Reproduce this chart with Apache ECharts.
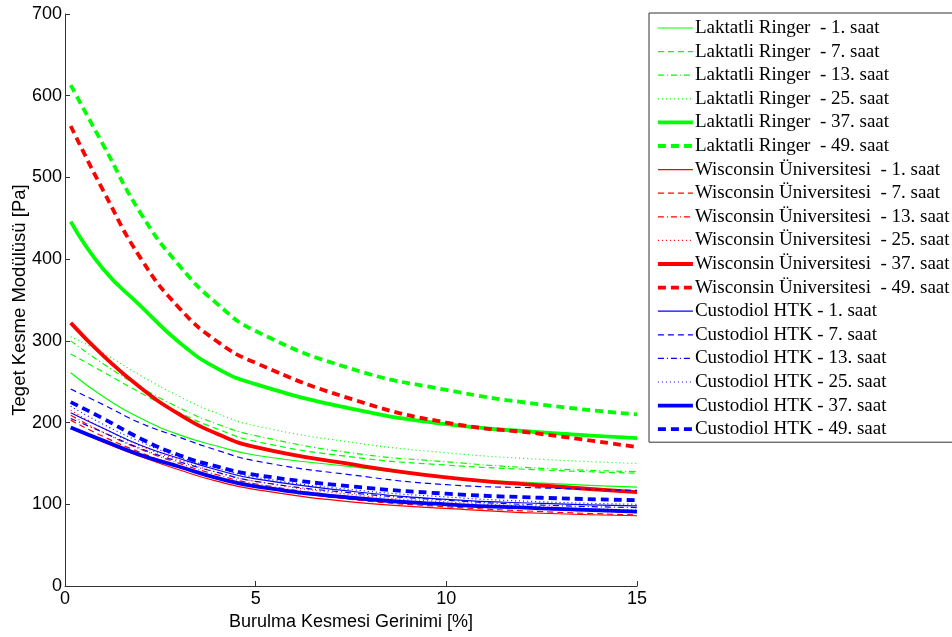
<!DOCTYPE html>
<html>
<head>
<meta charset="utf-8">
<script src="https://cdn.jsdelivr.net/npm/echarts@6/dist/echarts.min.js"></script>
<style>
  html, body { margin: 0; padding: 0; background: #fff; }
  #chart { width: 952px; height: 637px; }
</style>
</head>
<body>
<div id="chart"></div>
<script>
// strain values [%] shared by every curve
const strain = [0.15, 1, 2, 3, 4, 5, 7.5, 10, 12.5, 15];

// Laktatli Ringer
const lr1 = [261, 232, 205, 185, 171, 160, 146, 133, 126, 121];
const lr7 = [284, 262, 236, 212, 192, 177, 158, 148, 142, 138];
const lr13 = [300, 272, 243, 218, 198, 184, 163, 152, 144, 140];
const lr25 = [305, 285, 257, 232, 211, 196, 176, 163, 155, 150];
const lr37 = [446, 388, 342, 298, 266, 247, 217, 198, 188, 181];
const lr49 = [613, 540, 455, 392, 345, 312, 266, 240, 222, 210];
// Wisconsin Üniversitesi
const wu1 = [193, 176, 158, 142, 128, 118, 103, 95, 89, 86];
const wu7 = [203, 183, 163, 146, 132, 122, 106, 97, 91, 87];
const wu13 = [209, 188, 167, 150, 136, 125, 109, 100, 94, 90];
const wu25 = [215, 193, 171, 154, 139, 128, 112, 103, 97, 93];
const wu37 = [322, 282, 242, 210, 186, 170, 149, 133, 123, 115];
const wu49 = [563, 484, 400, 340, 299, 273, 229, 200, 186, 170];
// Custodiol HTK
const ch1 = [212, 193, 172, 156, 142, 131, 116, 106, 101, 98];
const ch7 = [241, 222, 199, 182, 166, 153, 136, 124, 120, 117];
const ch13 = [205, 188, 168, 152, 139, 128, 114, 105, 99, 96];
const ch25 = [220, 198, 176, 158, 144, 133, 118, 109, 103, 100];
const ch37 = [194, 178, 160, 146, 132, 122, 108, 100, 95, 91];
const ch49 = [225, 205, 180, 160, 146, 136, 122, 113, 108, 105];

const groups = [
  { label: 'Laktatli Ringer  - ', color: '#00ff00', data: [lr1, lr7, lr13, lr25, lr37, lr49] },
  { label: 'Wisconsin Üniversitesi  - ', color: '#ff0000', data: [wu1, wu7, wu13, wu25, wu37, wu49] },
  { label: 'Custodiol HTK - ', color: '#0000ff', data: [ch1, ch7, ch13, ch25, ch37, ch49] }
];
const hours = ['1', '7', '13', '25', '37', '49'];

// line styles per hour: solid, dashed, dash-dot, dotted, thick solid, thick dashed
const styles = [
  { width: 1.2, type: 'solid' },
  { width: 1.2, type: [6, 4] },
  { width: 1.2, type: [6, 3, 1, 3] },
  { width: 1.2, type: [1, 3] },
  { width: 3.8, type: 'solid' },
  { width: 3.8, type: [8, 5] }
];

const series = [];
const legendData = [];
groups.forEach(g => {
  g.data.forEach((vals, i) => {
    const name = g.label + hours[i] + '. saat';
    const ls = { color: g.color, width: styles[i].width, type: styles[i].type };
    series.push({
      name: name,
      type: 'line',
      data: strain.map((x, k) => [x, vals[k]]),
      smooth: 0.5,
      symbol: 'none',
      color: g.color,
      lineStyle: ls,
      emphasis: { disabled: true }
    });
    legendData.push({ name: name, lineStyle: ls, itemStyle: { opacity: 0 } });
  });
});

const chart = echarts.init(document.getElementById('chart'));
chart.setOption({
  animation: false,
  backgroundColor: '#fff',
  grid: { left: 65, right: 315, top: 14, bottom: 51, outerBoundsMode: 'none', containLabel: false },
  legend: {
    orient: 'vertical',
    left: 649,
    top: 13,
    padding: [5.5, 5, 3.5, 7],
    itemWidth: 35,
    itemHeight: 14,
    itemGap: 4.6,
    borderColor: '#333',
    borderWidth: 1,
    backgroundColor: '#fff',
    selectedMode: false,
    textStyle: { fontFamily: 'Liberation Serif', fontSize: 19, color: '#000', padding: [0, 0, 0, -3] },
    data: legendData
  },
  xAxis: {
    type: 'value',
    min: 0, max: 15, interval: 5,
    name: 'Burulma Kesmesi Gerinimi [%]',
    nameLocation: 'middle',
    nameGap: 27,
    nameTextStyle: { fontFamily: 'Liberation Sans', fontSize: 18, color: '#000' },
    axisLine: { lineStyle: { color: '#333' } },
    axisTick: { inside: true, length: 5, lineStyle: { color: '#333' } },
    axisLabel: { fontFamily: 'Liberation Sans', fontSize: 18, color: '#000', margin: 4 },
    splitLine: { show: false }
  },
  yAxis: {
    type: 'value',
    min: 0, max: 700, interval: 100,
    name: 'Teget Kesme Modülüsü [Pa]',
    nameLocation: 'middle',
    nameGap: 36,
    nameMoveOverlap: false,
    nameTextStyle: { fontFamily: 'Liberation Sans', fontSize: 18.5, color: '#000' },
    axisLine: { show: true, lineStyle: { color: '#333' } },
    axisTick: { show: true, inside: true, length: 5, lineStyle: { color: '#333' } },
    axisLabel: { fontFamily: 'Liberation Sans', fontSize: 18, color: '#000', margin: 3 },
    splitLine: { show: false }
  },
  series: series
});
</script>
</body>
</html>
